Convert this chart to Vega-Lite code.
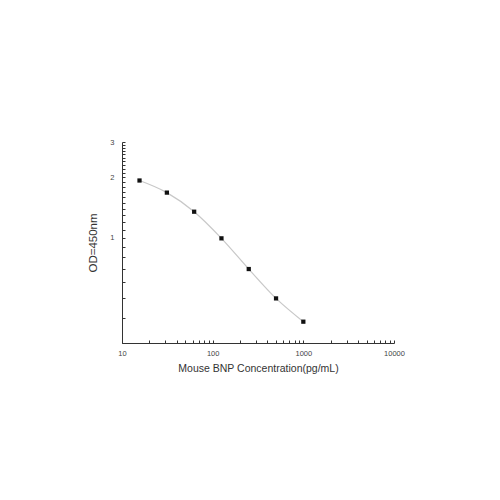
{
  "$schema": "https://vega.github.io/schema/vega-lite/v6.json",
  "autosize": "none",
  "width": 272,
  "height": 201,
  "padding": {"left": 122, "top": 142, "right": 106, "bottom": 157},
  "background": "white",
  "config": {"view": {"stroke": null}, "font": "Liberation Sans"},
  "data": {"values": [
    {"conc": 15.6, "od": 1.93},
    {"conc": 31.25, "od": 1.68},
    {"conc": 62.5, "od": 1.35},
    {"conc": 125, "od": 0.995},
    {"conc": 250, "od": 0.70},
    {"conc": 500, "od": 0.50},
    {"conc": 1000, "od": 0.383}
  ]},
  "encoding": {
    "x": {"field": "conc", "type": "quantitative",
      "scale": {"type": "log", "domain": [10, 10000], "nice": false},
      "axis": {"title": "Mouse BNP Concentration(pg/mL)", "titleFont": "Liberation Sans", "titleFontSize": 10.5, "titleFontWeight": "normal", "titleColor": "#333", "titlePadding": 7,
        "values": [10,20,30,40,50,60,70,80,90,100,200,300,400,500,600,700,800,900,1000,2000,3000,4000,5000,6000,7000,8000,9000,10000],
        "labelExpr": "(datum.value == 10 || datum.value == 100 || datum.value == 1000 || datum.value == 10000) ? datum.label : ''",
        "format": "d", "labelFontSize": 7.5, "labelColor": "#444", "labelPadding": 9,
        "tickSize": -3,
        "grid": false, "domainColor": "#333", "tickColor": "#333", "labelFlush": false, "labelOverlap": false}},
    "y": {"field": "od", "type": "quantitative",
      "scale": {"type": "log", "domain": [0.3, 3], "nice": false},
      "axis": {"title": "OD=450nm", "titleFont": "Liberation Sans", "titleFontSize": 11.5, "titleFontWeight": "normal", "titleColor": "#333", "titlePadding": 11,
        "values": [0.3,0.4,0.5,0.6,0.7,0.8,0.9,1,1.1,1.2,1.3,1.4,1.5,1.6,1.7,1.8,1.9,2,2.1,2.2,2.3,2.4,2.5,2.6,2.7,2.8,2.9,3],
        "labelExpr": "(datum.value == 1 || datum.value == 2 || datum.value == 3) ? datum.label : ''",
        "labelFontSize": 7.5, "labelColor": "#444", "labelPadding": 11,
        "tickSize": -3,
        "grid": false, "domainColor": "#333", "tickColor": "#333", "labelOverlap": false}}
  },
  "layer": [
    {"mark": {"type": "line", "interpolate": "monotone", "color": "#c8c8c8", "strokeWidth": 1.2}},
    {"mark": {"type": "square", "color": "#111", "opacity": 1, "size": 18, "filled": true}}
  ]
}
